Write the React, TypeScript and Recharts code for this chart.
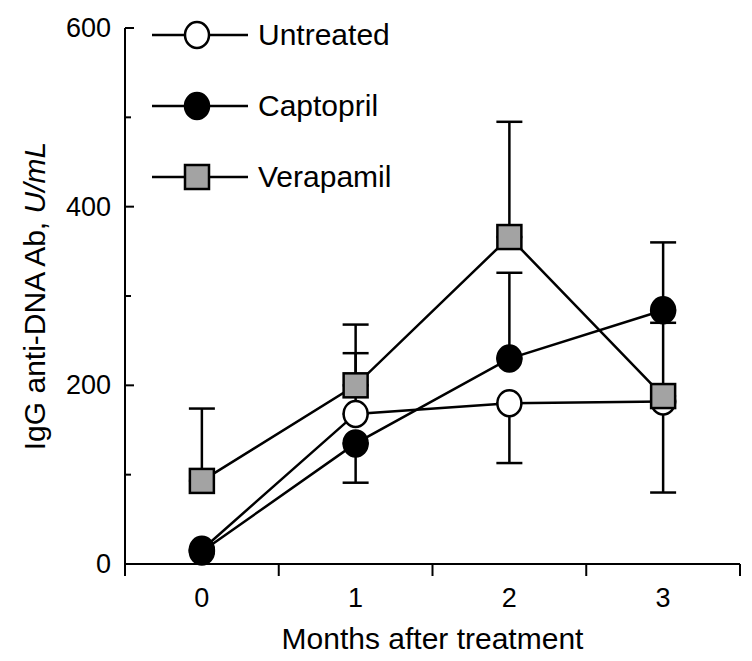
import { CartesianGrid, ErrorBar, Legend, Line, LineChart, XAxis, YAxis } from "recharts"

const FONT = "'Liberation Sans', Arial, Helvetica, sans-serif"

const MONTHS = [0, 1, 2, 3]
const UNTREATED = [16, 168, 180, 182]
const UNTREATED_ERR = [[0, 0], [0, 68], [67, 0], [102, 0]]
const CAPTOPRIL = [14, 135, 230, 284]
const CAPTOPRIL_ERR = [[0, 0], [44, 0], [0, 96], [0, 76]]
const VERAPAMIL = [93, 200, 366, 188]
const VERAPAMIL_ERR = [[0, 81], [0, 68], [0, 129], [0, 82]]

const X_TICKS = [-0.5, 0, 0.5, 1, 1.5, 2, 2.5, 3, 3.5]
const Y_TICKS = [0, 100, 200, 300, 400, 500, 600]

const data = MONTHS.map((m, i) => ({
  month: m,
  untreated: UNTREATED[i],
  untreatedErr: UNTREATED_ERR[i],
  captopril: CAPTOPRIL[i],
  captoprilErr: CAPTOPRIL_ERR[i],
  verapamil: VERAPAMIL[i],
  verapamilErr: VERAPAMIL_ERR[i],
}))

type Marker = "open" | "filled" | "square"

const SERIES: { key: string; name: string; marker: Marker }[] = [
  { key: "untreated", name: "Untreated", marker: "open" },
  { key: "captopril", name: "Captopril", marker: "filled" },
  { key: "verapamil", name: "Verapamil", marker: "square" },
]

function markerShape(kind: Marker, cx: number, cy: number, key?: string | number) {
  if (kind === "square")
    return <rect key={key} x={cx - 12} y={cy - 12} width={24} height={24} fill="#a3a3a3" stroke="#000" strokeWidth={2.5} />
  return <ellipse key={key} cx={cx} cy={cy} rx={12} ry={13} fill={kind === "filled" ? "#000" : "#fff"} stroke="#000" strokeWidth={2.5} />
}

function dotFor(kind: Marker) {
  return (p: any) => markerShape(kind, p.cx, p.cy, p.index)
}

function XTick({ x, y, payload }: any) {
  const v = payload.value
  if (!Number.isInteger(v)) return <line x1={x} x2={x} y1={y} y2={y + 12} stroke="#000" strokeWidth={2} />
  return (
    <text x={x} y={y + 34} textAnchor="middle" dominantBaseline="central" fontSize={27} fontFamily={FONT} fill="#000">
      {v}
    </text>
  )
}

function YTick({ x, y, payload }: any) {
  const v = payload.value
  const major = v % 200 === 0
  return (
    <g>
      <line x1={x} x2={x + (major ? 9 : 6)} y1={y} y2={y} stroke="#000" strokeWidth={2} />
      {v === 0 && <line x1={x} x2={x} y1={y} y2={y + 11} stroke="#000" strokeWidth={2} />}
      {major && (
        <text x={x - 14} y={y} textAnchor="end" dominantBaseline="central" fontSize={27} fontFamily={FONT} fill="#000">
          {v}
        </text>
      )}
    </g>
  )
}

function LegendBox() {
  return (
    <div style={{ fontFamily: FONT, fontSize: 30, color: "#000" }}>
      {SERIES.map((s) => (
        <div key={s.key} style={{ display: "flex", alignItems: "center", height: 71 }}>
          <svg width={96} height={30} style={{ display: "block" }}>
            <line x1={0} x2={96} y1={15} y2={15} stroke="#000" strokeWidth={2.5} />
            {markerShape(s.marker, 45, 15)}
          </svg>
          <span style={{ marginLeft: 10, lineHeight: 1 }}>{s.name}</span>
        </div>
      ))}
    </div>
  )
}

export default function App() {
  return (
    <div style={{ width: 752, height: 661, background: "#fff" }}>
      <style>{"body{margin:0;background:#fff}"}</style>
      <LineChart width={752} height={661} data={data} margin={{ top: 28, right: 12, bottom: 0, left: 0 }}>
        <CartesianGrid stroke="none" />
        <XAxis
          type="number"
          dataKey="month"
          domain={[-0.5, 3.5]}
          ticks={X_TICKS}
          interval={0}
          height={97}
          tickSize={0}
          tickMargin={0}
          tickLine={false}
          axisLine={{ stroke: "#000", strokeWidth: 2 }}
          tick={XTick}
          label={{
            content: ({ viewBox }: any) => (
              <text x={viewBox.x + viewBox.width / 2} y={viewBox.y + 74} textAnchor="middle" dominantBaseline="central" fontSize={30} fontFamily={FONT} fill="#000">
                Months after treatment
              </text>
            ),
          }}
        />
        <YAxis
          type="number"
          domain={[0, 600]}
          ticks={Y_TICKS}
          interval={0}
          width={125}
          tickSize={0}
          tickMargin={0}
          tickLine={false}
          axisLine={{ stroke: "#000", strokeWidth: 2 }}
          tick={YTick}
          label={{
            content: ({ viewBox }: any) => {
              const cx = viewBox.x + 34
              const cy = viewBox.y + viewBox.height / 2
              return (
                <text x={cx} y={cy} transform={`rotate(-90, ${cx}, ${cy})`} textAnchor="middle" dominantBaseline="central" fontSize={30} fontFamily={FONT} fill="#000">
                  IgG anti-DNA Ab, <tspan fontStyle="italic">U/mL</tspan>
                </text>
              )
            },
          }}
        />
        <Legend layout="horizontal" verticalAlign="middle" align="center" content={LegendBox} wrapperStyle={{ position: "absolute", top: -1, left: 152, width: 260 }} />
        {SERIES.map((s) => (
          <Line
            key={s.key}
            dataKey={s.key}
            name={s.name}
            type="linear"
            stroke="#000"
            strokeWidth={2.5}
            dot={dotFor(s.marker)}
            activeDot={false}
            isAnimationActive={false}
          >
            <ErrorBar dataKey={`${s.key}Err`} direction="y" width={13} stroke="#000" strokeWidth={2.5} />
          </Line>
        ))}
      </LineChart>
    </div>
  )
}
